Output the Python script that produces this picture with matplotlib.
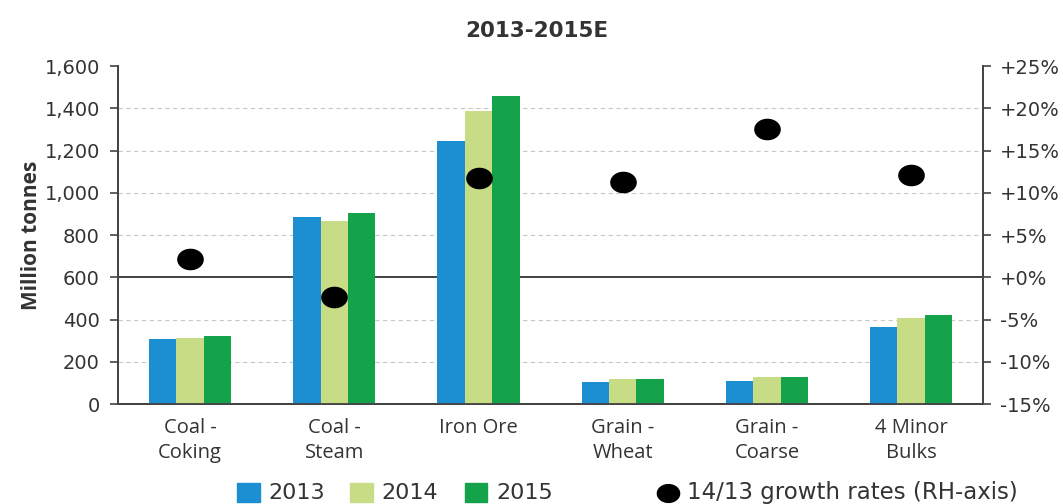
import numpy as np
import matplotlib
matplotlib.use("Agg")
import matplotlib.pyplot as plt
from matplotlib.path import Path
from matplotlib.lines import Line2D
from matplotlib.patches import Rectangle

matplotlib.rcParams['font.family'] = ['DejaVu Sans']

categories = ['Coal -\nCoking', 'Coal -\nSteam', 'Iron Ore', 'Grain -\nWheat', 'Grain -\nCoarse', '4 Minor\nBulks']
years = ['2013', '2014', '2015']
vol_2013 = [308, 887, 1243, 106, 110, 366]
vol_2014 = [314, 868, 1385, 117, 129, 409]
vol_2015 = [322, 903, 1460, 117, 129, 421]
growth_14_13 = [2.2, -2.3, 11.7, 11.3, 17.6, 12.1]   # % change 2014 vs 2013

left_ticks = [0, 200, 400, 600, 800, 1000, 1200, 1400, 1600]
right_ticks = [-15, -10, -5, 0, 5, 10, 15, 20, 25]

colors = ['#1b8fd2', '#c8dc85', '#14a24b']
text_col = '#333333'
axis_col = '#444444'

# slightly flattened dot
t = np.linspace(0, 2 * np.pi, 60)
oval = Path(np.column_stack([1.25 * np.cos(t), np.sin(t)]))

fig = plt.figure(figsize=(10.63, 5.04), dpi=100)
ax = fig.add_axes([0.111, 0.198, 0.814, 0.671])
ax2 = ax.twinx()

x = np.arange(len(categories))
w = 0.19
for i, vals in enumerate([vol_2013, vol_2014, vol_2015]):
    ax.bar(x + (i - 1) * w, vals, w, color=colors[i], zorder=3)

ax.set_xlim(-0.5, len(categories) - 0.5)
ax.set_ylim(0, 1600)
ax.set_yticks(left_ticks)
ax.set_yticklabels([f'{v:,}' for v in left_ticks])
ax.set_xticks(x)
ax.set_xticklabels(categories, va='top', linespacing=1.35, family='Open Sans', fontsize=14.5)
ax.tick_params(axis='x', length=0, pad=10, labelcolor=text_col)
ax.tick_params(axis='y', length=6, width=1.2, color=axis_col, labelsize=14,
               labelcolor=text_col, pad=7)
for v in left_ticks[1:-1]:
    if v != 600:
        ax.axhline(v, color='#c8c8c8', lw=0.8, ls=(0, (4, 3)), zorder=1)
ax.axhline(600, color='#333333', lw=1.3, zorder=2)
ax.set_ylabel('Million tonnes', fontsize=15, color=text_col, labelpad=2,
              fontweight='bold', family='Open Sans')

ax2.scatter(x, growth_14_13, marker=oval, s=330, color='black', zorder=5)
ax2.set_ylim(-15, 25)
ax2.set_yticks(right_ticks)
ax2.set_yticklabels([f'{v}%' if v < 0 else f'+{v}%' for v in right_ticks])
ax2.tick_params(axis='y', length=6, width=1.2, color=axis_col, labelsize=14,
                labelcolor=text_col, pad=6)

for a in (ax, ax2):
    a.spines['top'].set_visible(False)
    for s in ('left', 'right', 'bottom'):
        a.spines[s].set_color(axis_col)
        a.spines[s].set_linewidth(1.3)

fig.text(0.505, 0.938, '2013-2015E', ha='center', va='center',
         fontsize=15.5, fontweight='bold', color=text_col)

# legend row along the bottom
leg_c = 0.022
leg_h = 0.038
leg_w = 0.0215
for xl, c, lab in zip([0.223, 0.329, 0.437], colors, years):
    fig.add_artist(Rectangle((xl, leg_c - leg_h / 2), leg_w, leg_h,
                             transform=fig.transFigure, color=c))
    fig.text(xl + leg_w + 0.008, leg_c, lab, va='center', ha='left',
             fontsize=16, color=text_col)
fig.add_artist(Line2D([0.628], [leg_c], transform=fig.transFigure,
                      ls='none', marker=oval, markersize=16, color='black'))
fig.text(0.646, leg_c, '14/13 growth rates (RH-axis)', va='center',
         ha='left', fontsize=16.5, color=text_col)

fig.savefig('out.png', dpi=100)
